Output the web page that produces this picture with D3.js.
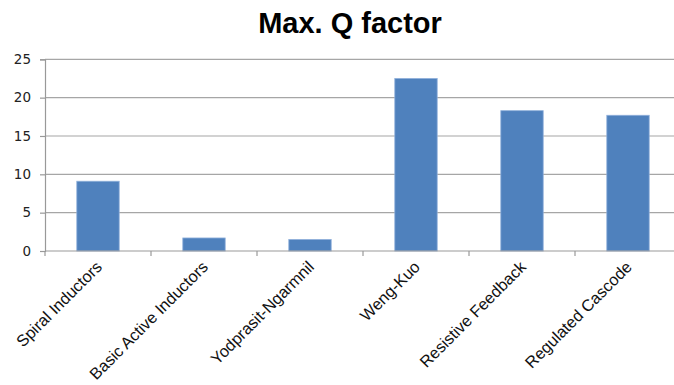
<!DOCTYPE html>
<html><head><meta charset="utf-8">
<script src="https://cdn.jsdelivr.net/npm/d3@7"></script>
<style>body{margin:0;background:#fff}svg{display:block}</style>
</head><body>
<svg id="c" width="674" height="385"></svg>
<script>
const categories = ["Spiral Inductors","Basic Active Inductors","Yodprasit-Ngarmnil","Weng-Kuo","Resistive Feedback","Regulated Cascode"];
const values = [9.1, 1.7, 1.5, 22.5, 18.3, 17.7];
const yTicks = [0,5,10,15,20,25];
const title = "Max. Q factor";

const svg = d3.select("#c");
const mLeft = 45, mRight = 681, mTop = 59.3, mBottom = 251;
const x = d3.scaleBand().domain(categories).range([mLeft, mRight]).paddingInner(0.6).paddingOuter(0.3);
const y = d3.scaleLinear().domain([0,25]).range([mBottom, mTop]);

svg.append("text").attr("x", 350).attr("y", 33).attr("text-anchor","middle")
  .attr("font-family","Liberation Sans, Arial, sans-serif").attr("font-weight","bold")
  .attr("font-size", 29).attr("fill","#000").text(title);

// gridlines
svg.append("g").selectAll("line").data(yTicks.filter(d=>d>0)).join("line")
  .attr("x1", mLeft).attr("x2", mRight).attr("y1", d=>y(d)).attr("y2", d=>y(d))
  .attr("stroke","#a6a6a6").attr("stroke-width",1.2);

// y axis
const ya = svg.append("g").attr("transform",`translate(${mLeft},0)`)
  .call(d3.axisLeft(y).tickValues(yTicks).tickSize(5).tickPadding(9));
ya.select(".domain").attr("stroke","#999").attr("stroke-width",1.2);
ya.selectAll(".tick line").attr("stroke","#999").attr("stroke-width",1.2);
ya.selectAll("text").attr("font-family","DejaVu Sans, sans-serif").attr("font-size",13.5).attr("fill","#222");

// bars
svg.append("g").selectAll("rect").data(values).join("rect")
  .attr("x",(d,i)=>x(categories[i])).attr("width",x.bandwidth())
  .attr("y",d=>y(d)).attr("height",d=>y(0)-y(d))
  .attr("fill","#4f81bd").attr("stroke","#8fb0db").attr("stroke-width",0.8);

// x axis
const xa = svg.append("g").attr("transform",`translate(0,${mBottom})`);
xa.append("line").attr("x1",mLeft).attr("x2",mRight).attr("stroke","#999").attr("stroke-width",1.2);
const bounds = d3.range(categories.length+1).map(i=>mLeft + i*(mRight-mLeft)/categories.length);
xa.selectAll(".tk").data(bounds).join("line").attr("class","tk")
  .attr("x1",d=>d).attr("x2",d=>d).attr("y1",0).attr("y2",5)
  .attr("stroke","#999").attr("stroke-width",1.2);
xa.selectAll(".lbl").data(categories).join("text").attr("class","lbl")
  .attr("transform",d=>`translate(${x(d)+x.bandwidth()/2+5},17) rotate(-45)`)
  .attr("text-anchor","end")
  .attr("font-family","Liberation Sans, Arial, sans-serif").attr("font-size",16.3).attr("fill","#111")
  .text(d=>d);
</script>
</body></html>
